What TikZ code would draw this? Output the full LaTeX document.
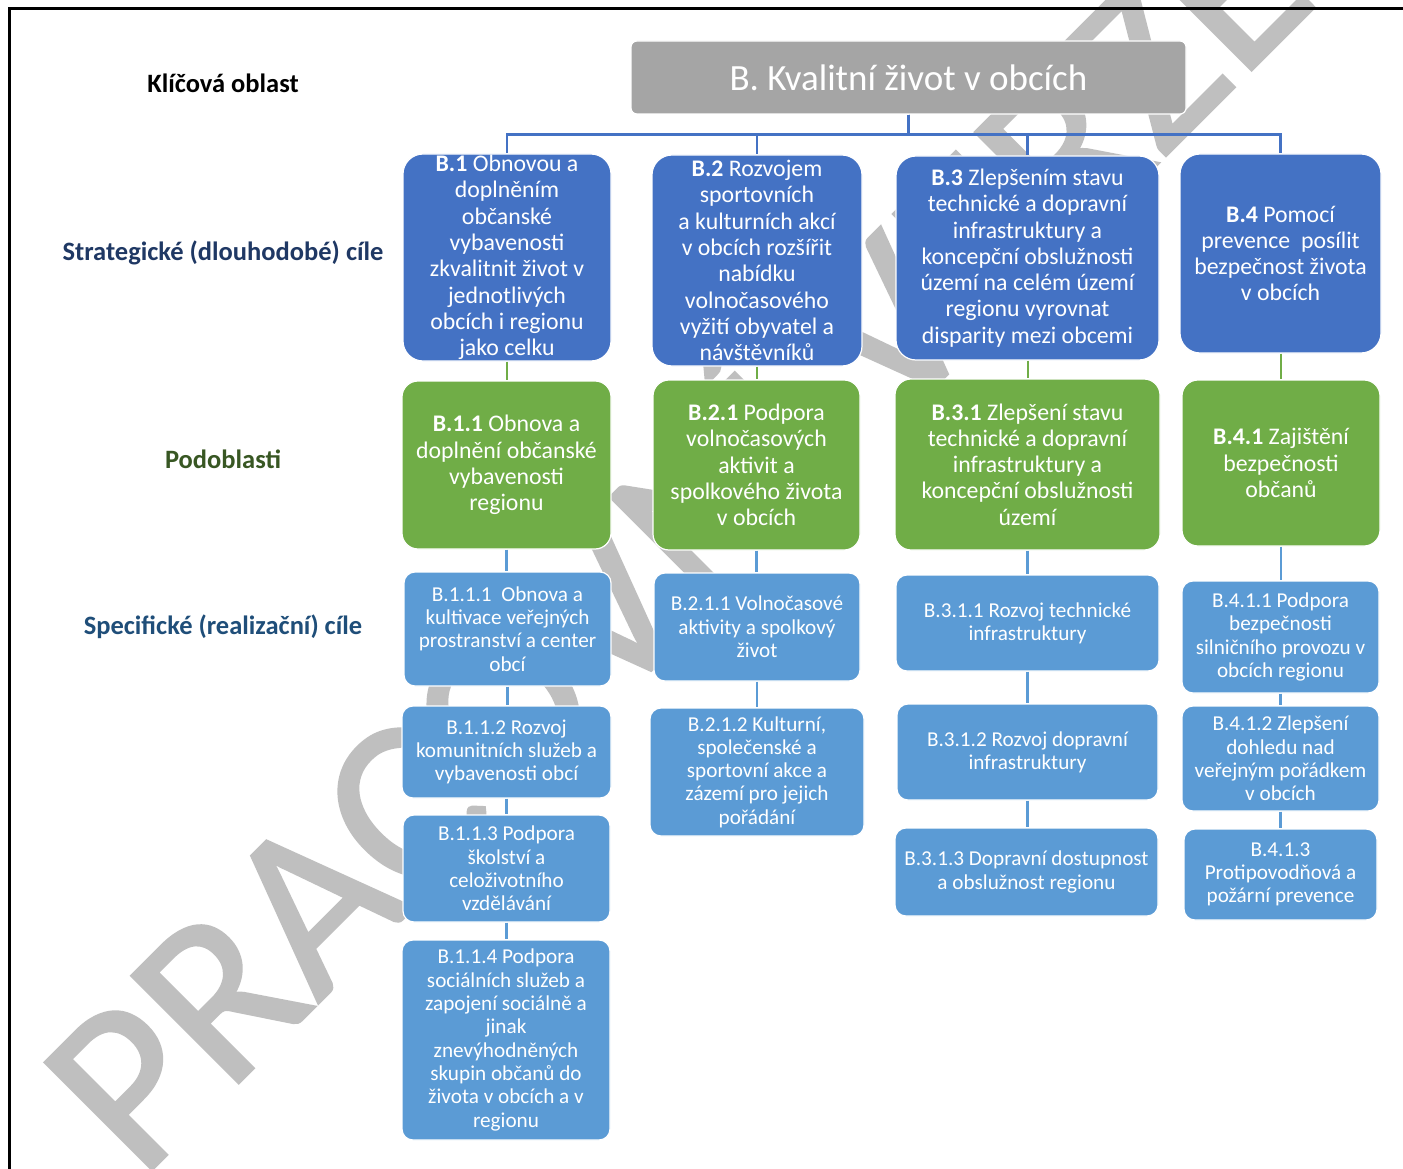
\documentclass[tikz,border=0pt]{standalone}
\usepackage{fontspec}
\setmainfont{Carlito}
\newfontfamily\wmfont[FakeBold=1]{Carlito}
\definecolor{dblue}{HTML}{4472C4}
\definecolor{lblue}{HTML}{5B9BD5}
\definecolor{lgreen}{HTML}{70AD47}
\definecolor{tgray}{HTML}{A5A5A5}
\definecolor{wmgray}{HTML}{BFBFBF}
\definecolor{navy}{HTML}{1F3864}
\definecolor{navyb}{HTML}{1F4E79}
\definecolor{dgreen}{HTML}{385723}
\newcommand\mkbox[7]{%
  \pgfmathsetmacro\cx{(#3+#5)/2}\pgfmathsetmacro\cy{(#4+#6)/2}%
  \pgfmathsetmacro\ww{#5-#3}\pgfmathsetmacro\hh{#6-#4}%
  \node[#2, minimum width=\ww pt, minimum height=\hh pt] (#1) at (\cx,\cy) {#7};}
\tikzset{
  boxbase/.style={draw=white, line width=1.2pt, text=white, align=center, inner sep=0pt},
  titlebox/.style={boxbase, fill=tgray, rounded corners=6pt, font=\fontsize{37}{44}\selectfont},
  stratbox/.style={boxbase, fill=dblue, rounded corners=20pt, font=\fontsize{23.8}{26.3}\selectfont},
  subbox/.style={boxbase, fill=lgreen, rounded corners=16pt, font=\fontsize{23.8}{26.3}\selectfont},
  specbox/.style={boxbase, fill=lblue, rounded corners=11pt, font=\fontsize{21.2}{23.3}\selectfont},
  rowlabel/.style={font=\fontsize{26.5}{30}\selectfont\bfseries, anchor=center},
  topline/.style={draw=dblue, line width=2.4pt},
  greenline/.style={draw=lgreen, line width=2pt},
  blueline/.style={draw=lblue, line width=2.2pt},
  frameline/.style={draw=black, line width=3pt},
}
\begin{document}
\begin{tikzpicture}[x=1pt, y=-1pt]
\useasboundingbox (0,0) rectangle (1403,1169);
\fill[white] (0,0) rectangle (1403,1169);
% watermark
\node[rotate=45, anchor=base west, inner sep=0pt, text=wmgray,
      font=\wmfont\fontsize{237}{240}\selectfont] (wm) at (140,1182) {PRACOVNÍ VERZE};
% frame
\draw[frameline] (9,1180) -- (9,9) -- (1415,9);
% row labels
\node[rowlabel, text=black] (lab1) at (223,83) {Klíčová oblast};
\node[rowlabel, text=navy] (lab2) at (223,253) {Strategické (dlouhodobé) cíle};
\node[rowlabel, text=dgreen] (lab3) at (223,459) {Podoblasti};
\node[rowlabel, text=navyb] (lab4) at (223,627) {Specifické (realizační) cíle};
% title
\mkbox{title}{titlebox}{631}{41}{1186}{114}{B. Kvalitní život v obcích}
% strategic goals
\mkbox{b1}{stratbox}{403}{154}{611}{361}{\textbf{B.1} Obnovou a\\doplněním\\občanské\\vybavenosti\\zkvalitnit život v\\jednotlivých\\obcích i regionu\\jako celku}
\mkbox{b2}{stratbox}{652}{155}{862}{366}{\textbf{B.2} Rozvojem\\sportovních\\a kulturních akcí\\v obcích rozšířit\\nabídku\\volnočasového\\vyžití obyvatel a\\návštěvníků}
\mkbox{b3}{stratbox}{896}{156}{1159}{360}{\textbf{B.3} Zlepšením stavu\\technické a dopravní\\infrastruktury a\\koncepční obslužnosti\\území na celém území\\regionu vyrovnat\\disparity mezi obcemi}
\mkbox{b4}{stratbox}{1180}{154}{1381}{353}{\textbf{B.4} Pomocí\\prevence\ \ posílit\\bezpečnost života\\v obcích}
% sub areas
\mkbox{b11}{subbox}{402}{381}{611}{549}{\textbf{B.1.1} Obnova a\\doplnění občanské\\vybavenosti\\regionu}
\mkbox{b21}{subbox}{653}{380}{860}{550}{\textbf{B.2.1} Podpora\\volnočasových\\aktivit a\\spolkového života\\v obcích}
\mkbox{b31}{subbox}{895}{379}{1160}{550}{\textbf{B.3.1} Zlepšení stavu\\technické a dopravní\\infrastruktury a\\koncepční obslužnosti\\území}
\mkbox{b41}{subbox}{1182}{380}{1380}{546}{\textbf{B.4.1} Zajištění\\bezpečnosti\\občanů}
% specific goals
\mkbox{b111}{specbox}{404}{572}{611}{686}{B.1.1.1\ \ Obnova a\\kultivace veřejných\\prostranství a center\\obcí}
\mkbox{b112}{specbox}{402}{706}{611}{798}{B.1.1.2 Rozvoj\\komunitních služeb a\\vybavenosti obcí}
\mkbox{b113}{specbox}{403}{815}{610}{922}{B.1.1.3 Podpora\\školství a\\celoživotního\\vzdělávání}
\mkbox{b114}{specbox}{402}{940}{610}{1140}{B.1.1.4 Podpora\\sociálních služeb a\\zapojení sociálně a\\jinak\\znevýhodněných\\skupin občanů do\\života v obcích a v\\regionu}
\mkbox{b211}{specbox}{654}{573}{860}{681}{B.2.1.1 Volnočasové\\aktivity a spolkový\\život}
\mkbox{b212}{specbox}{650}{708}{864}{836}{B.2.1.2 Kulturní,\\společenské a\\sportovní akce a\\zázemí pro jejich\\pořádání}
\mkbox{b311}{specbox}{896}{575}{1159}{671}{B.3.1.1 Rozvoj technické\\infrastruktury}
\mkbox{b312}{specbox}{897}{704}{1158}{800}{B.3.1.2 Rozvoj dopravní\\infrastruktury}
\mkbox{b313}{specbox}{895}{828}{1158}{916}{B.3.1.3 Dopravní dostupnost\\a obslužnost regionu}
\mkbox{b411}{specbox}{1182}{581}{1379}{693}{B.4.1.1 Podpora\\bezpečnosti\\silničního provozu v\\obcích regionu}
\mkbox{b412}{specbox}{1182}{706}{1379}{811}{B.4.1.2 Zlepšení\\dohledu nad\\veřejným pořádkem\\v obcích}
\mkbox{b413}{specbox}{1184}{829}{1377}{920}{B.4.1.3\\Protipovodňová a\\požární prevence}
% connectors from title
\foreach \b in {b1,b2,b3,b4}{
  \draw[topline] (title.south) -- ++(0,20) -| (\b.north);
}
% strategic -> sub areas
\foreach \a/\b in {b1/b11,b2/b21,b3/b31,b4/b41}{
  \draw[greenline] (\a.south) -- (\a.south |- \b.north);
}
% sub areas -> specific goals and chains
\foreach \a/\b in {b11/b111,b111/b112,b112/b113,b113/b114,b21/b211,b211/b212,b31/b311,b311/b312,b312/b313,b41/b411,b411/b412,b412/b413}{
  \draw[blueline] (\a.south) -- (\a.south |- \b.north);
}
\end{tikzpicture}
\end{document}
